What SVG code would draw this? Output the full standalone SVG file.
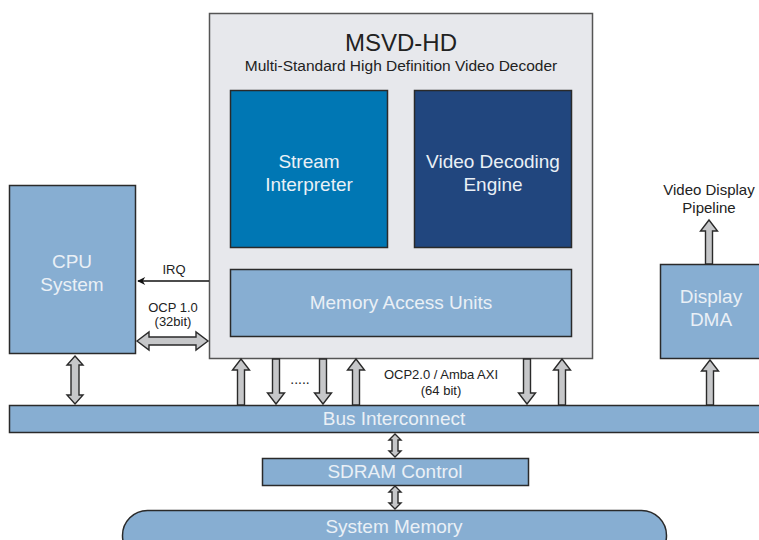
<svg xmlns="http://www.w3.org/2000/svg" width="759" height="540" viewBox="0 0 759 540">
<defs>
<style>
.box{stroke:#2a2a2a;stroke-width:1.5}
.lb{fill:#87aed2}
.lbl{font-family:"Liberation Sans",Arial,sans-serif;fill:#eaf0f6;text-anchor:middle;font-size:19px}
.blk{font-family:"Liberation Sans",Arial,sans-serif;fill:#222;text-anchor:middle}
.arr{fill:#c6c7c9;stroke:#2a2a2a;stroke-width:1.4;stroke-linejoin:miter}
</style>
<marker id="ah" viewBox="0 0 10 10" refX="9" refY="5" markerWidth="10" markerHeight="8" markerUnits="userSpaceOnUse" orient="auto">
<path d="M0,0 L10,5 L0,10 L3,5 Z" fill="#111"/>
</marker>
</defs>
<rect width="759" height="540" fill="#ffffff"/>

<g id="msvd">
<rect x="209.5" y="13.5" width="383" height="345" fill="#e7e8ec" stroke="#555" stroke-width="1.5"/>
<text class="blk" x="401" y="51" font-size="24">MSVD-HD</text>
<text class="blk" x="401" y="71" font-size="15.5">Multi-Standard High Definition Video Decoder</text>
</g>
<g id="stream">
<rect class="box" x="230.5" y="90.5" width="157" height="157" fill="#0077b4"/>
<text class="lbl" x="309" y="168">Stream</text>
<text class="lbl" x="309" y="191">Interpreter</text>
</g>
<g id="vde">
<rect class="box" x="414.5" y="90.5" width="157" height="157" fill="#21467e"/>
<text class="lbl" x="493" y="168">Video Decoding</text>
<text class="lbl" x="493" y="191">Engine</text>
</g>
<g id="mau">
<rect class="box lb" x="230.5" y="269.5" width="341" height="67"/>
<text class="lbl" x="401" y="309">Memory Access Units</text>
</g>
<g id="cpu">
<rect class="box lb" x="9.5" y="185.5" width="126" height="168"/>
<text class="lbl" x="72" y="268">CPU</text>
<text class="lbl" x="72" y="291">System</text>
</g>
<g id="dma">
<rect class="box lb" x="660.5" y="264.5" width="105" height="94"/>
<text class="lbl" x="711" y="303">Display</text>
<text class="lbl" x="711" y="326">DMA</text>
</g>
<g id="pipeline">
<text class="blk" x="709" y="195" font-size="15">Video Display</text>
<text class="blk" x="709" y="213" font-size="15">Pipeline</text>
</g>
<g id="bus">
<rect class="box lb" x="9.5" y="405.5" width="760" height="27"/>
<text class="lbl" x="394" y="425">Bus Interconnect</text>
</g>
<g id="sdram">
<rect class="box lb" x="262.5" y="458.5" width="266" height="27"/>
<text class="lbl" x="395" y="478">SDRAM Control</text>
</g>
<g id="sysmem">
<rect class="box lb" x="122.5" y="510.5" width="544" height="50" rx="25" ry="25"/>
<text class="lbl" x="394" y="533">System Memory</text>
</g>

<g id="connectors">
<line x1="209" y1="281" x2="138" y2="281" stroke="#111" stroke-width="1.3" marker-end="url(#ah)"/>
<text class="blk" x="174" y="274" font-size="13">IRQ</text>
<path class="arr" d="M137,341 L149,332 L149,337 L196,337 L196,332 L208,341 L196,350 L196,345 L149,345 L149,350 Z"/>
<text class="blk" x="173" y="312" font-size="13">OCP 1.0</text>
<text class="blk" x="173" y="326" font-size="13">(32bit)</text>
<path class="arr" d="M75,356 L83,365 L79,365 L79,395 L83,395 L75,404 L67,395 L71,395 L71,365 L67,365 Z"/>
<path class="arr" d="M241,359 L249.5,370 L244.5,370 L244.5,405 L237.5,405 L237.5,370 L232.5,370 Z"/>
<path class="arr" d="M276,404 L284.5,393 L279.5,393 L279.5,359 L272.5,359 L272.5,393 L267.5,393 Z"/>
<path class="arr" d="M323,404 L331.5,393 L326.5,393 L326.5,359 L319.5,359 L319.5,393 L314.5,393 Z"/>
<path class="arr" d="M356,359 L364.5,370 L359.5,370 L359.5,405 L352.5,405 L352.5,370 L347.5,370 Z"/>
<path class="arr" d="M527,404 L535.5,393 L530.5,393 L530.5,359 L523.5,359 L523.5,393 L518.5,393 Z"/>
<path class="arr" d="M562,359 L570.5,370 L565.5,370 L565.5,405 L558.5,405 L558.5,370 L553.5,370 Z"/>
<text class="blk" x="300" y="384" font-size="14">.....</text>
<text class="blk" x="441" y="379" font-size="13">OCP2.0 / Amba AXI</text>
<text class="blk" x="441" y="395" font-size="13">(64 bit)</text>
<path class="arr" d="M710,360 L718.5,371 L713.5,371 L713.5,405 L706.5,405 L706.5,371 L701.5,371 Z"/>
<path class="arr" d="M709,220 L717.5,231 L712.5,231 L712.5,264 L705.5,264 L705.5,231 L700.5,231 Z"/>
<path class="arr" d="M395,434 L401,440 L398,440 L398,451 L401,451 L395,457 L389,451 L392,451 L392,440 L389,440 Z"/>
<path class="arr" d="M395,486 L401,492 L398,492 L398,503 L401,503 L395,509 L389,503 L392,503 L392,492 L389,492 Z"/>
</g>
</svg>
